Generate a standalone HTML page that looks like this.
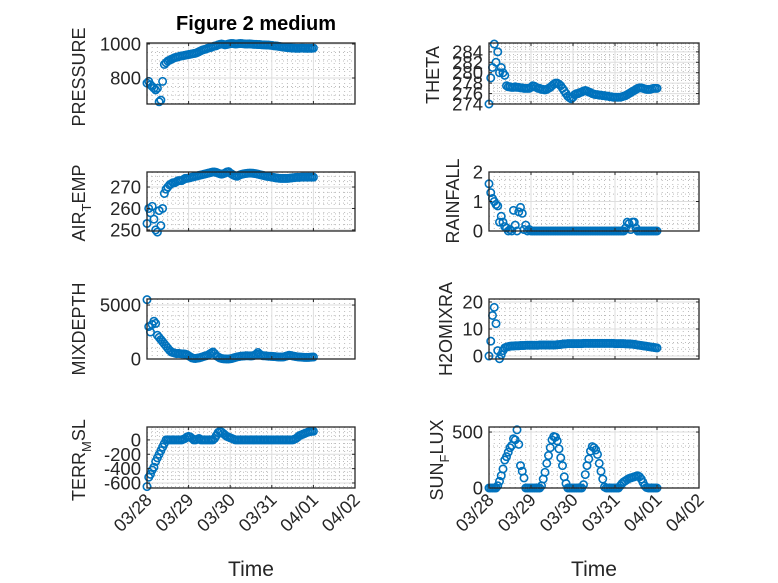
<!DOCTYPE html>
<html><head><meta charset="utf-8">
<style>
html,body{margin:0;padding:0;background:#fff;}
svg{display:block;font-family:"Liberation Sans","DejaVu Sans",sans-serif;}
</style></head>
<body>
<svg id="fig" width="778" height="583" viewBox="0 0 778 583" xmlns="http://www.w3.org/2000/svg">
<rect width="778" height="583" fill="#fff"/>
<text x="256" y="30" text-anchor="middle" font-size="20" font-weight="bold" fill="#000">Figure 2 medium</text>
<text x="251" y="576" text-anchor="middle" font-size="21" fill="#262626">Time</text>
<text x="594" y="576" text-anchor="middle" font-size="21" fill="#262626">Time</text>
</svg>
<script>
// shared x values (hours since 03/28 00:00)
const hours = [];
for (let i = 0; i <= 96; i++) hours.push(i);
const xTickLabels = ["03/28","03/29","03/30","03/31","04/01","04/02"];

const pressure = [770,780,760,750,740,730,740,660,670,780,880,890,900,905,910,915,920,922,925,928,930,932,934,936,
938,940,942,944,946,950,955,960,965,968,970,975,978,980,985,988,990,995,998,1000,998,995,997,1000,
1002,1003,1002,1000,1001,1002,1003,1002,1001,1000,1000,1001,1000,999,998,998,997,997,996,995,995,994,994,993,
992,990,989,988,986,985,983,982,980,979,978,977,976,976,975,975,975,976,976,975,975,975,975,975,976];
const airTemp = [253,260,258,261,255,250,249,259,252,260,267,269,270,271,271.5,272,272,272.5,273,273,273,273.5,274,274,
274.2,274.4,274.6,274.8,275,275.2,275.4,275.6,275.8,276,276.2,276.4,276.6,276.8,277,277,276.8,276.5,276.2,276,276.2,276.5,277,277.2,
276.5,276,275.5,275.2,275,275.4,275.8,276,276.2,276.3,276.4,276.5,276.5,276.4,276.3,276.2,276,275.8,275.6,275.4,275.2,275,
274.9,274.8,274.6,274.5,274.3,274.2,274.1,274,274,274,274,274,274.1,274.2,274.3,274.4,274.5,274.5,274.5,274.6,274.6,274.6,274.6,274.6,274.6,274.6,274.6];
const mixDepth = [5500,3000,2500,3200,3500,3300,2200,2000,1800,1600,1400,1200,1000,800,650,600,550,500,520,500,480,470,450,400,
300,200,100,60,50,80,100,150,200,250,300,350,450,550,650,500,300,200,100,50,20,10,0,0,
20,50,100,150,200,220,250,270,280,300,300,290,280,300,350,450,600,450,350,300,300,280,
260,250,240,230,220,200,190,180,180,200,250,300,350,320,280,250,220,200,180,170,160,150,150,150,160,170,180];
const terrMsl = [-650,-520,-480,-420,-380,-300,-250,-200,-150,-100,-50,0,0,0,0,0,0,0,0,0,0,10,20,40,
50,40,20,0,0,10,20,0,0,0,0,0,0,0,0,20,60,100,120,110,90,70,50,40,30,20,
10,0,0,0,0,0,0,0,0,0,0,0,0,0,0,0,0,0,0,0,0,0,0,0,0,0,0,0,0,0,0,0,0,
0,0,10,20,40,60,70,80,90,100,110,115,120,120];
const theta = [274,279,281,285.5,282,284,280,281,280,279.5,277.5,277.3,277.3,277.2,277.2,277.3,277.2,277.2,277.1,277.1,277,277,277,277,
277.2,277.5,277.4,277.2,277,277,276.8,276.8,276.7,276.8,277,277.2,277.5,277.8,278,278,277.8,277.5,277,276.5,276,275.5,275.2,275,
275.3,275.8,276,276,276.2,276.3,276.5,276.6,276.5,276.3,276.2,276,275.9,275.8,275.8,275.7,275.7,275.6,275.6,275.5,275.5,275.4,
275.4,275.3,275.3,275.3,275.3,275.3,275.4,275.5,275.6,275.8,276,276.2,276.4,276.6,276.8,277,277.1,277.1,277,276.9,276.8,276.8,276.8,276.9,277,277,277];
const rainfall = [1.6,1.3,1.1,1.0,0.9,0.85,0.3,0.5,0.3,0.15,0.1,0,0.05,0,0.7,0.2,0,0.65,0.8,0.6,0.05,0.2,0,0.05,
0,0,0,0,0,0,0,0,0,0,0,0,0,0,0,0,0,0,0,0,0,0,0,0,0,0,0,0,0,0,0,0,0,0,0,0,0,0,0,0,0,0,0,0,0,0,0,0,0,0,0,0,0,0,
0.1,0.3,0.25,0.05,0.3,0.3,0.1,0,0,0,0,0,0,0,0,0,0,0,0];
const h2oMix = [0,5.5,15,18,12,2,-1,0.5,2,3,3.3,3.5,3.6,3.7,3.7,3.8,3.8,3.8,3.9,3.9,3.9,4,4,4,
4,4,4,4,4,4.1,4.1,4.1,4.1,4.1,4.1,4.1,4.1,4.1,4.1,4.2,4.2,4.3,4.4,4.5,4.5,4.6,4.6,4.6,
4.6,4.6,4.6,4.6,4.6,4.6,4.7,4.7,4.7,4.7,4.7,4.7,4.7,4.7,4.7,4.7,4.7,4.7,4.7,4.7,4.7,4.7,
4.7,4.7,4.6,4.6,4.6,4.6,4.6,4.6,4.5,4.5,4.5,4.4,4.4,4.3,4.2,4.1,4,3.9,3.8,3.7,3.6,3.5,3.4,3.3,3.2,3.1,3];
const sunFlux = [0,0,0,0,0,20,60,110,170,250,280,320,360,380,440,430,520,390,200,150,90,0,0,0,
0,0,0,0,0,0,20,80,140,220,290,360,430,460,455,420,350,270,200,100,40,0,0,0,
0,0,0,0,0,0,30,120,200,260,330,370,360,340,300,220,150,80,10,0,0,0,0,0,0,0,0,
20,40,55,65,75,85,90,95,100,105,110,100,80,50,20,5,0,0,0,0,0,0];

const panels = [
 {name:"pressure",y:pressure,x0:147,x1:355,t:43,b:104,ymin:647,ymax:1006,ticks:[800,1000],minor:50,label:["PRESSURE"],lx:79,ly:77,xlab:false},
 {name:"theta",y:theta,x0:489,x1:699,t:43,b:104,ymin:274,ymax:285.7,ticks:[274,276,278,280,282,284],minor:0.5,label:["THETA"],lx:433,ly:75,xlab:false},
 {name:"air-temp",y:airTemp,x0:147,x1:355,t:172,b:231,ymin:249.5,ymax:277,ticks:[250,260,270],minor:2.5,label:["AIR","T","EMP"],lx:79,ly:203,xlab:false},
 {name:"rainfall",y:rainfall,x0:489,x1:699,t:172,b:231,ymin:0,ymax:2,ticks:[0,1,2],minor:0.25,label:["RAINFALL"],lx:453,ly:201,xlab:false},
 {name:"mixdepth",y:mixDepth,x0:147,x1:355,t:299,b:359,ymin:0,ymax:5560,ticks:[0,5000],minor:1000,label:["MIXDEPTH"],lx:79,ly:329,xlab:false},
 {name:"h2o-mix",y:h2oMix,x0:489,x1:699,t:299,b:359,ymin:-1.1,ymax:21.1,ticks:[0,10,20],minor:2.5,label:["H2OMIXRA"],lx:446,ly:329,xlab:false},
 {name:"terr-msl",y:terrMsl,x0:147,x1:355,t:427,b:488,ymin:-670,ymax:180,ticks:[-600,-400,-200,0],minor:50,label:["TERR","M","SL"],lx:79,ly:460,xlab:true},
 {name:"sun-flux",y:sunFlux,x0:489,x1:699,t:427,b:488,ymin:0,ymax:545,ticks:[0,500],minor:125,label:["SUN","F","LUX"],lx:437,ly:460,xlab:true}
];

const NS = "http://www.w3.org/2000/svg";
const svg = document.getElementById("fig");
function mk(tag, attrs, parent){ const e=document.createElementNS(NS,tag); for(const k in attrs) e.setAttribute(k,attrs[k]); (parent||svg).appendChild(e); return e; }

panels.forEach(p=>{
  const g = mk("g",{});
  
  
  const xs = h => p.x0 + (h/120)*(p.x1-p.x0);
  const ys = v => p.b - (v-p.ymin)/(p.ymax-p.ymin)*(p.b-p.t);
  for(let h=3;h<120;h+=3){ if(h%24===0) continue;
    mk("line",{x1:xs(h),x2:xs(h),y1:p.t,y2:p.b,stroke:"#bcbcbc","stroke-width":1,"stroke-dasharray":"1 3"},g); }
  const m0 = Math.ceil(p.ymin/p.minor)*p.minor;
  for(let v=m0; v<=p.ymax; v+=p.minor){ if(p.ticks.some(t=>Math.abs(t-v)<1e-6)) continue;
    mk("line",{x1:p.x0,x2:p.x1,y1:ys(v),y2:ys(v),stroke:"#bcbcbc","stroke-width":1,"stroke-dasharray":"1 3"},g); }
  for(let d=1; d<5; d++) mk("line",{x1:xs(d*24),x2:xs(d*24),y1:p.t,y2:p.b,stroke:"#dedede","stroke-width":1},g);
  p.ticks.forEach(v=>{ mk("line",{x1:p.x0,x2:p.x1,y1:ys(v),y2:ys(v),stroke:"#dedede","stroke-width":1},g); });
  const series = mk("g",{fill:"none",stroke:"#0072BD","stroke-width":1.6},g);
  
  
  hours.forEach((h,i)=>{
    const c = mk("circle",{cx:xs(h),cy:ys(p.y[i]),r:3.7},series);
    
    
  });
  mk("rect",{x:p.x0,y:p.t,width:p.x1-p.x0,height:p.b-p.t,fill:"none",stroke:"#262626","stroke-width":1.3},g);
  for(let d=0; d<=5; d++){
    const x=xs(d*24);
    mk("line",{x1:x,x2:x,y1:p.b,y2:p.b-3,stroke:"#262626"},g);
    mk("line",{x1:x,x2:x,y1:p.t,y2:p.t+3,stroke:"#262626"},g);
    if(p.xlab){
      const t = mk("text",{x:x+6,y:p.b+13,"text-anchor":"end","font-size":18,fill:"#262626",transform:`rotate(-45 ${x+6} ${p.b+13})`},g);
      
      
      t.textContent = xTickLabels[d];
    }
  }
  p.ticks.forEach(v=>{
    const y=ys(v);
    mk("line",{x1:p.x0,x2:p.x0+3,y1:y,y2:y,stroke:"#262626"},g);
    mk("line",{x1:p.x1,x2:p.x1-3,y1:y,y2:y,stroke:"#262626"},g);
    const t = mk("text",{x:p.x0-6,y:y+6.5,"text-anchor":"end","font-size":18.5,fill:"#262626"},g);
    
    
    t.textContent = String(v);
  });
  const yl = mk("text",{x:p.lx,y:p.ly,"text-anchor":"middle","font-size":18,fill:"#262626",transform:`rotate(-90 ${p.lx} ${p.ly})`,dy:6},g);
  
  
  if(p.label.length===1){ yl.textContent=p.label[0]; }
  else {
    const a=mk("tspan",{},yl); a.textContent=p.label[0];
    const b=mk("tspan",{dy:6,"font-size":13},yl); b.textContent=p.label[1];
    const c=mk("tspan",{dy:-6},yl); c.textContent=p.label[2];
  }
});
</script>
</body></html>
